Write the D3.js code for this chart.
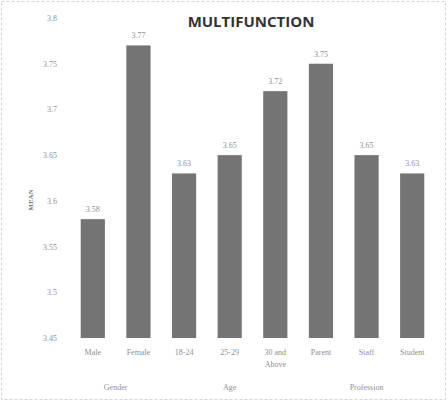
<!DOCTYPE html>
<html><head><meta charset="utf-8">
<script src="https://cdn.jsdelivr.net/npm/d3@7"></script>
<style>body{margin:0;background:#fff}svg{display:block}</style>
</head><body>
<script>
const categories = ["Male","Female","18-24","25-29","30 and|Above","Parent","Staff","Student"];
const values = [3.58,3.77,3.63,3.65,3.72,3.75,3.65,3.63];
const groups = [{name:"Gender",from:0,to:1},{name:"Age",from:2,to:4},{name:"Profession",from:5,to:7}];
const yTicks = [3.45,3.5,3.55,3.6,3.65,3.7,3.75,3.8];
const title = "MULTIFUNCTION";
const yLabel = "MEAN";

const W=448,H=402;
const svg=d3.select("body").append("svg").attr("width",W).attr("height",H);
svg.append("rect").attr("x",1.5).attr("y",1.5).attr("width",W-4).attr("height",H-4)
  .attr("fill","#fff").attr("stroke","#d4d4d4").attr("stroke-dasharray","3,2");

const x=d3.scaleBand().domain(d3.range(categories.length)).range([70,435]).paddingInner(0.47).paddingOuter(0.235);
const y=d3.scaleLinear().domain([3.45,3.8]).range([338,18]);

const txt="#8f8f8f";
const serif="'Liberation Serif','DejaVu Serif',serif";

svg.append("text").attr("x",251).attr("y",27).attr("text-anchor","middle")
  .attr("font-family","'Open Sans',sans-serif").attr("font-weight","bold").attr("font-size",15)
  .attr("fill","#333").text(title);

const yAxis=svg.append("g").attr("transform","translate(60,0)")
  .call(d3.axisLeft(y).tickValues(yTicks).tickSize(0).tickPadding(3).tickFormat(d=>d3.format("")(+d.toFixed(2))));
yAxis.select(".domain").remove();
yAxis.selectAll("text").attr("font-family",serif).attr("font-size",8).attr("fill",txt);

svg.append("text").attr("transform","translate(33,200) rotate(-90)").attr("text-anchor","middle")
  .attr("font-family",serif).attr("font-size",7).attr("font-weight","bold").attr("fill","#777").text(yLabel);

svg.selectAll("rect.bar").data(values).join("rect").attr("class","bar")
  .attr("x",(d,i)=>x(i)).attr("width",x.bandwidth())
  .attr("y",d=>y(d)).attr("height",d=>y(3.45)-y(d)).attr("fill","#747474");

svg.selectAll("text.val").data(values).join("text").attr("class","val")
  .attr("x",(d,i)=>x(i)+x.bandwidth()/2).attr("y",d=>y(d)-7).attr("text-anchor","middle")
  .attr("font-family",serif).attr("font-size",8).attr("fill",txt).text(d=>d.toFixed(2));

const cat=svg.selectAll("text.cat").data(categories).join("text").attr("class","cat")
  .attr("x",(d,i)=>x(i)+x.bandwidth()/2).attr("y",355).attr("text-anchor","middle")
  .attr("font-family",serif).attr("font-size",8).attr("fill",txt);
cat.each(function(d){
  const parts=d.split("|");
  const t=d3.select(this);
  parts.forEach((p,k)=>t.append("tspan").attr("x",t.attr("x")).attr("dy",k?12:0).text(p));
});

svg.selectAll("text.grp").data(groups).join("text").attr("class","grp")
  .attr("x",g=>(x(g.from)+x(g.to)+x.bandwidth())/2).attr("y",390).attr("text-anchor","middle")
  .attr("font-family",serif).attr("font-size",8).attr("fill",txt).text(g=>g.name);
</script>
</body></html>
